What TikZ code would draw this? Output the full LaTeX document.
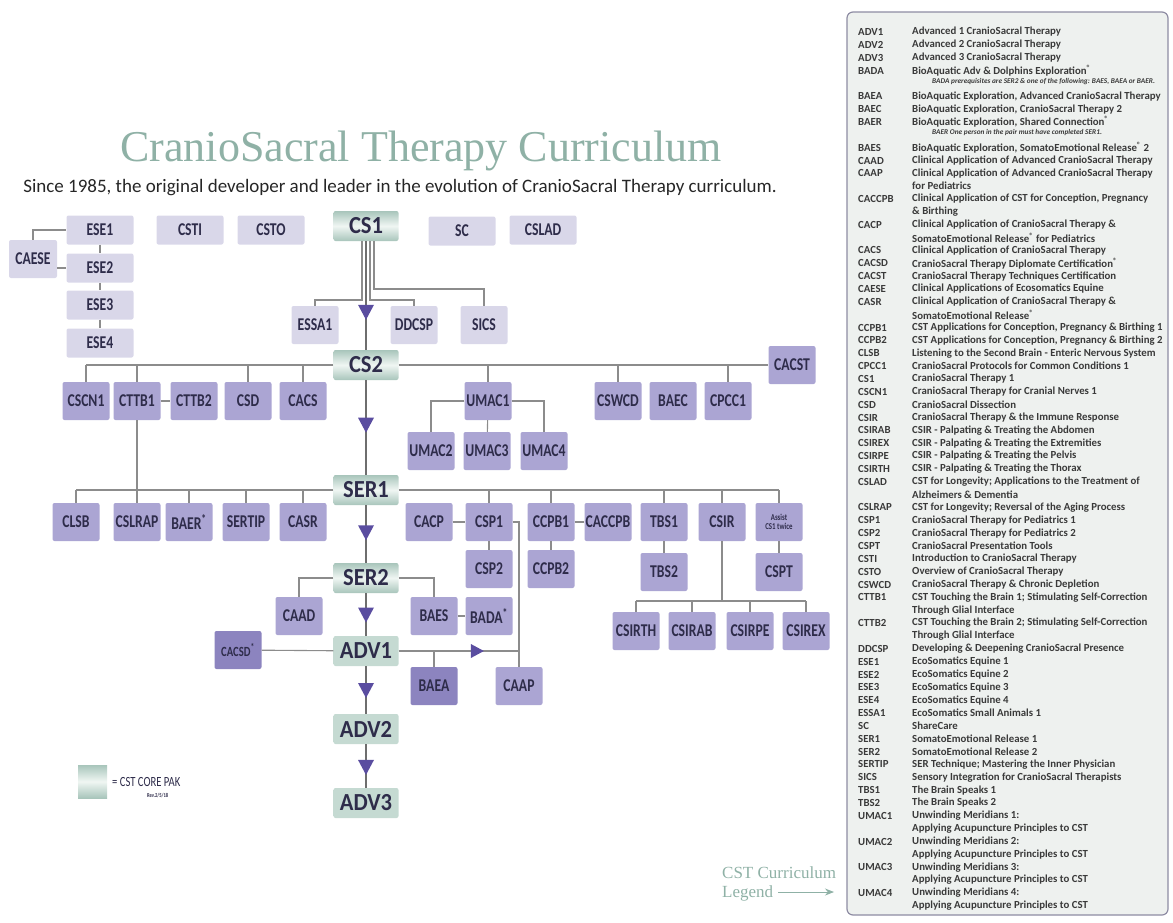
\documentclass[tikz,border=0pt]{standalone}
\usepackage{fontspec}
\setmainfont{Carlito}
\newfontfamily\boxfont[FakeStretch=0.76]{Carlito}
\newfontfamily\corefont[FakeStretch=0.92]{Carlito}
\newfontfamily\serifhead{Liberation Serif}
\usetikzlibrary{calc,arrows.meta}

\definecolor{boxpale}{HTML}{D9D7E9}
\definecolor{boxmid}{HTML}{ABA5D3}
\definecolor{boxdeep}{HTML}{8C84BF}
\definecolor{boxtext}{HTML}{2E2C4A}
\definecolor{coreedge}{HTML}{A8C5BB}
\definecolor{coremid}{HTML}{F0F6F3}
\definecolor{coreplain}{HTML}{C5DAD2}
\definecolor{linkgray}{HTML}{8C8C8C}
\definecolor{spinegray}{HTML}{6E6E6E}
\definecolor{headpurple}{HTML}{5A4DA0}
\definecolor{titlegreen}{HTML}{8FB1A6}
\definecolor{legendfill}{HTML}{EEF1EF}
\definecolor{legenddraw}{HTML}{8E8CA3}
\definecolor{legendtext}{HTML}{3A3A3A}

\newcommand{\reg}{\textsuperscript{®}}

\tikzset{
 course/.style={rounded corners=2pt,fill=boxmid,text=boxtext,inner sep=0pt,
   minimum width=47pt,minimum height=38pt,
   font=\boxfont\bfseries\fontsize{18}{18}\selectfont},
 pale/.style={course,fill=boxpale},
 widepale/.style={pale,minimum width=67pt,minimum height=29pt},
 deep/.style={course,fill=boxdeep},
 core/.style={rounded corners=2pt,top color=coreedge,bottom color=coreedge,
   middle color=coremid,text=boxtext,inner sep=0pt,
   minimum width=65pt,minimum height=30pt,
   font=\corefont\bfseries\fontsize{24.5}{24.5}\selectfont},
 coreflat/.style={core,top color=coreplain,bottom color=coreplain,middle color=coreplain},
 link/.style={draw=linkgray,line width=1.1pt},
 spine/.style={draw=spinegray,line width=2pt},
 head/.style={fill=headpurple},
 legab/.style={anchor=west,inner sep=0pt,text=legendtext,
   font=\bfseries\fontsize{10.8}{10.8}\selectfont},
 legnote/.style={anchor=west,inner sep=0pt,text=legendtext,
   font=\bfseries\itshape\fontsize{7.3}{7.3}\selectfont},
}

\begin{document}
\begin{tikzpicture}[x=1pt,y=-1pt]
\useasboundingbox (0,0) rectangle (1173,922);

\newcommand{\downhead}[1]{\fill[head] (#1) ++(-8,-7) -- ++(16,0) -- ++(-8,15) -- cycle;}
\newcommand{\righthead}[1]{\fill[head] (#1) ++(-6,-7) -- ++(0,14) -- ++(13,-7) -- cycle;}

% title
\node[anchor=base,text=titlegreen,font=\serifhead\fontsize{44}{44}\selectfont]
  (title) at (421,161) {CranioSacral Therapy Curriculum};
\node[font=\fontsize{19}{19}\selectfont,text=black!85] (subtitle) at (400,188)
  {Since 1985, the original developer and leader in the evolution of CranioSacral Therapy curriculum.};

% core pak
\node[core] (cs1) at (366,226) {CS1};
\node[core] (cs2) at (366,365) {CS2};
\node[core] (ser1) at (366,490) {SER1};
\node[core] (ser2) at (366,578) {SER2};
\node[coreflat] (adv1) at (366,651) {ADV1};
\node[coreflat] (adv2) at (366,729) {ADV2};
\node[coreflat] (adv3) at (366,803) {ADV3};

% top row
\node[widepale] (ese1) at (100,230) {ESE1};
\node[widepale] (ese2) at (100,268) {ESE2};
\node[widepale] (ese3) at (100,305) {ESE3};
\node[widepale] (ese4) at (100,343) {ESE4};
\node[pale,minimum width=48pt] (caese) at (33,259) {CAESE};
\node[widepale] (csti) at (190,230) {CSTI};
\node[widepale] (csto) at (271,230) {CSTO};
\node[widepale] (sc) at (462,231) {SC};
\node[widepale] (cslad) at (543,230) {CSLAD};
\node[pale] (essa1) at (315,325) {ESSA1};
\node[pale] (ddcsp) at (414,325) {DDCSP};
\node[pale] (sics) at (484,325) {SICS};

% CS2 row
\node[course] (cscn1) at (86,401) {CSCN1};
\node[course] (cttb1) at (137,401) {CTTB1};
\node[course] (cttb2) at (194,401) {CTTB2};
\node[course] (csd) at (248,401) {CSD};
\node[course] (cacs) at (303,401) {CACS};
\node[course] (umac1) at (488,401) {UMAC1};
\node[course] (cswcd) at (618,401) {CSWCD};
\node[course] (baec) at (673,401) {BAEC};
\node[course] (cpcc1) at (728,401) {CPCC1};
\node[course] (cacst) at (792,365) {CACST};
\node[course] (umac2) at (431,451) {UMAC2};
\node[course] (umac3) at (487,451) {UMAC3};
\node[course] (umac4) at (544,451) {UMAC4};

% SER1 row
\node[course] (clsb) at (76,522) {CLSB};
\node[course] (cslrap) at (137,522) {CSLRAP};
\node[course] (baer) at (189,522) {BAER\textsuperscript{*}};
\node[course] (sertip) at (246,522) {SERTIP};
\node[course] (casr) at (303,522) {CASR};
\node[course] (cacp) at (429,522) {CACP};
\node[course] (csp1) at (489,522) {CSP1};
\node[course] (ccpb1) at (551,522) {CCPB1};
\node[course] (caccpb) at (608,522) {CACCPB};
\node[course] (tbs1) at (664,522) {TBS1};
\node[course] (csir) at (722,522) {CSIR};
\node[course,align=center,font=\boxfont\bfseries\fontsize{9}{9}\selectfont]
  (assist) at (779,522) {Assist\\CS1 twice};
\node[course] (csp2) at (489,569) {CSP2};
\node[course] (ccpb2) at (551,569) {CCPB2};
\node[course] (tbs2) at (664,572) {TBS2};
\node[course] (cspt) at (779,572) {CSPT};

% SER2 / ADV1
\node[course] (caad) at (299,616) {CAAD};
\node[course] (baes) at (434,616) {BAES};
\node[course] (bada) at (489,616) {BADA\textsuperscript{*}};
\node[course] (csirth) at (636,631) {CSIRTH};
\node[course] (csirab) at (692,631) {CSIRAB};
\node[course] (csirpe) at (750,631) {CSIRPE};
\node[course] (csirex) at (806,631) {CSIREX};
\node[deep,font=\boxfont\bfseries\fontsize{14}{14}\selectfont] (cacsd) at (238,650) {CACSD\textsuperscript{*}};
\node[deep] (baea) at (434,686) {BAEA};
\node[course] (caap) at (519,686) {CAAP};

% connectors
\draw[link] (ese1) -- (ese2) (ese2) -- (ese3) (ese3) -- (ese4);
\draw[link] (caese.north) |- (ese1.west);
\draw[link] (caese.east |- ese2.west) -- (ese2.west);

\coordinate (knee1) at (0,300);
\coordinate (knee2) at (0,289);
\draw[link] ([xshift=-4pt]cs1.south) |- (essa1.north |- knee1) -- (essa1.north);
\draw[link] ([xshift=4pt]cs1.south) |- (ddcsp.north |- knee1) -- (ddcsp.north);
\draw[link] ([xshift=8pt]cs1.south) |- (sics.north |- knee2) -- (sics.north);

\draw[link] (cs2.west) -- (cs2.west -| cscn1.north);
\draw[link] (cs2.east) -- (cacst.west);
\foreach \c in {cscn1,cttb1,csd,cacs,umac1,cswcd,cpcc1}
  \draw[link] (cs2.west -| \c.north) -- (\c.north);
\draw[link] (cttb1) -- (cttb2);
\draw[link] (cttb1) -- (cslrap);
\draw[link] (umac1.west) -| (umac2.north);
\draw[link] (umac1.east) -| (umac4.north);
\draw[link] (umac1) -- (umac3);

\draw[link] (ser1.west) -- (ser1.west -| clsb.north);
\draw[link] (ser1.east) -- (ser1.east -| assist.north);
\foreach \c in {clsb,baer,sertip,casr,csp1,ccpb1,tbs1,csir,assist}
  \draw[link] (ser1.west -| \c.north) -- (\c.north);
\draw[link] (cacp) -- (csp1);
\draw[link] (ccpb1) -- (caccpb);
\draw[link] (csp1) -- (csp2) (ccpb1) -- (ccpb2) (tbs1) -- (tbs2) (assist) -- (cspt);
\draw[link] (csp1.east) -| (caap.north);

\coordinate (irbus) at (0,601);
\draw[link] (csir.south) -- (csir.south |- irbus);
\draw[link] (csirth.north |- irbus) -- (csirex.north |- irbus);
\foreach \c in {csirth,csirab,csirpe,csirex}
  \draw[link] (\c.north |- irbus) -- (\c.north);

\draw[link] (ser2.west) -| (caad.north);
\draw[link] (ser2.east) -| (baes.north);
\draw[link] (baes) -- (bada);
\draw[link] (cacsd) -- (adv1);
\draw[link] (adv1.east) -- (adv1.east -| caap.north);
\draw[link] (baea.north |- adv1.east) -- (baea.north);
\righthead{$(adv1.east)!0.65!(adv1.east -| caap.north)$}

% spine
\draw[spine] (cs1) -- (cs2) (cs2) -- (ser1) (ser1) -- (ser2)
  (ser2) -- (adv1) (adv1) -- (adv2) (adv2) -- (adv3);
\downhead{$(cs1.south)!0.65!(cs2.north)$}
\downhead{$(cs2.south)!0.47!(ser1.north)$}
\downhead{$(ser1.south)!0.47!(ser2.north)$}
\downhead{$(ser2.south)!0.5!(adv1.north)$}
\downhead{$(adv1.south)!0.5!(adv2.north)$}
\downhead{$(adv2.south)!0.52!(adv3.north)$}

% core pak key
\node[core,minimum width=29pt,minimum height=33pt,rounded corners=0pt] (swatch) at (92.5,781.5) {};
\node[anchor=west,inner sep=0pt,text=boxtext,font=\boxfont\fontsize{14}{14}\selectfont]
  (corepak) at (112,782) {= CST CORE PAK};
\node[anchor=west,inner sep=0pt,text=boxtext,font=\boxfont\bfseries\fontsize{6}{6}\selectfont]
  (rev) at (147,796) {Rev.2/5/18};

% legend
\draw[draw=legenddraw,fill=legendfill,line width=1.2pt,rounded corners=6pt]
  (847,12) rectangle (1168,915);
\foreach \n/\ab/\txt in {
 1/ADV1/{Advanced 1 CranioSacral Therapy},
 2/ADV2/{Advanced 2 CranioSacral Therapy},
 3/ADV3/{Advanced 3 CranioSacral Therapy},
 4/BADA/{BioAquatic Adv \& Dolphins Exploration\reg},
 6/BAEA/{BioAquatic Exploration, Advanced CranioSacral Therapy},
 7/BAEC/{BioAquatic Exploration, CranioSacral Therapy 2},
 8/BAER/{BioAquatic Exploration, Shared Connection\reg},
 10/BAES/{BioAquatic Exploration, SomatoEmotional Release\reg{} 2},
 11/CAAD/{Clinical Application of Advanced CranioSacral Therapy},
 12/CAAP/{Clinical Application of Advanced CranioSacral Therapy},
 13/{}/{for Pediatrics},
 14/CACCPB/{Clinical Application of CST for Conception, Pregnancy},
 15/{}/{\& Birthing},
 16/CACP/{Clinical Application of CranioSacral Therapy \&},
 17/{}/{SomatoEmotional Release\reg{} for Pediatrics},
 18/CACS/{Clinical Application of CranioSacral Therapy},
 19/CACSD/{CranioSacral Therapy Diplomate Certification\reg},
 20/CACST/{CranioSacral Therapy Techniques Certification},
 21/CAESE/{Clinical Applications of Ecosomatics Equine},
 22/CASR/{Clinical Application of CranioSacral Therapy \&},
 23/{}/{SomatoEmotional Release\reg},
 24/CCPB1/{CST Applications for Conception, Pregnancy \& Birthing 1},
 25/CCPB2/{CST Applications for Conception, Pregnancy \& Birthing 2},
 26/CLSB/{Listening to the Second Brain - Enteric Nervous System},
 27/CPCC1/{CranioSacral Protocols for Common Conditions 1},
 28/CS1/{CranioSacral Therapy 1},
 29/CSCN1/{CranioSacral Therapy for Cranial Nerves 1},
 30/CSD/{CranioSacral Dissection},
 31/CSIR/{CranioSacral Therapy \& the Immune Response},
 32/CSIRAB/{CSIR - Palpating \& Treating the Abdomen},
 33/CSIREX/{CSIR - Palpating \& Treating the Extremities},
 34/CSIRPE/{CSIR - Palpating \& Treating the Pelvis},
 35/CSIRTH/{CSIR - Palpating \& Treating the Thorax},
 36/CSLAD/{CST for Longevity; Applications to the Treatment of},
 37/{}/{Alzheimers \& Dementia},
 38/CSLRAP/{CST for Longevity; Reversal of the Aging Process},
 39/CSP1/{CranioSacral Therapy for Pediatrics 1},
 40/CSP2/{CranioSacral Therapy for Pediatrics 2},
 41/CSPT/{CranioSacral Presentation Tools},
 42/CSTI/{Introduction to CranioSacral Therapy},
 43/CSTO/{Overview of CranioSacral Therapy},
 44/CSWCD/{CranioSacral Therapy \& Chronic Depletion},
 45/CTTB1/{CST Touching the Brain 1; Stimulating Self-Correction},
 46/{}/{Through Glial Interface},
 47/CTTB2/{CST Touching the Brain 2; Stimulating Self-Correction},
 48/{}/{Through Glial Interface},
 49/DDCSP/{Developing \& Deepening CranioSacral Presence},
 50/ESE1/{EcoSomatics Equine 1},
 51/ESE2/{EcoSomatics Equine 2},
 52/ESE3/{EcoSomatics Equine 3},
 53/ESE4/{EcoSomatics Equine 4},
 54/ESSA1/{EcoSomatics Small Animals 1},
 55/SC/{ShareCare},
 56/SER1/{SomatoEmotional Release 1},
 57/SER2/{SomatoEmotional Release 2},
 58/SERTIP/{SER Technique; Mastering the Inner Physician},
 59/SICS/{Sensory Integration for CranioSacral Therapists},
 60/TBS1/{The Brain Speaks 1},
 61/TBS2/{The Brain Speaks 2},
 62/UMAC1/{Unwinding Meridians 1:},
 63/{}/{Applying Acupuncture Principles to CST},
 64/UMAC2/{Unwinding Meridians 2:},
 65/{}/{Applying Acupuncture Principles to CST},
 66/UMAC3/{Unwinding Meridians 3:},
 67/{}/{Applying Acupuncture Principles to CST},
 68/UMAC4/{Unwinding Meridians 4:},
 69/{}/{Applying Acupuncture Principles to CST}}
{
 \node[legab] (ab\n) at (858,{32+(\n-1)*12.85}) {\ab};
 \node[legab] (tx\n) at (912,{32+(\n-1)*12.85}) {\txt};
}
\node[legnote] (note5) at (932,{32+4*12.85-2}) {BADA prerequisites are SER2 \& one of the following: BAES, BAEA or BAER.};
\node[legnote] (note9) at (932,{32+8*12.85-2}) {BAER One person in the pair must have completed SER1.};

% legend pointer
\node[anchor=base west,inner sep=0pt,text=titlegreen,font=\serifhead\fontsize{17}{17}\selectfont]
  (keyline1) at (722,878) {CST Curriculum};
\node[anchor=base west,inner sep=0pt,text=titlegreen,font=\serifhead\fontsize{17}{17}\selectfont]
  (keyline2) at (722,897) {Legend};
\coordinate (keytip) at (834,892);
\draw[titlegreen,line width=1pt,-{Stealth[length=9pt,width=7pt]}] ([xshift=5pt,yshift=5pt]keyline2.base east) -- (keytip);

\end{tikzpicture}
\end{document}
